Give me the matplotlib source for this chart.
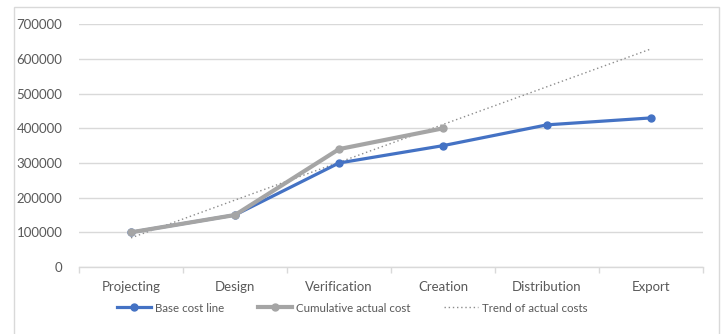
import matplotlib
matplotlib.use("Agg")
import matplotlib.pyplot as plt
from matplotlib.patches import Rectangle
import numpy as np

categories = ["Projecting", "Design", "Verification", "Creation", "Distribution", "Export"]
base_cost = [100000, 150000, 300000, 350000, 410000, 430000]
actual_cost = [100000, 150000, 340000, 400000]
y_ticks = [0, 100000, 200000, 300000, 400000, 500000, 600000, 700000]

BLUE = "#4472C4"
GRAY = "#A5A5A5"
TEXT = "#595959"
GRID = "#D9D9D9"

plt.rcParams["font.family"] = ["Lato", "DejaVu Sans"]

fig = plt.figure(figsize=(7.21, 3.34), dpi=100)
W, H = 721, 334
ax = fig.add_axes([79 / W, 1 - 267 / H, 624 / W, (267 - 24.3) / H])

# outer chart frame
fig.patches.append(Rectangle((14 / W, -0.1), (719 - 14) / W, 1.1 - 7 / H,
                             transform=fig.transFigure, fill=False,
                             edgecolor="#D9D9D9", linewidth=1.0))

x_all = np.arange(len(categories))
x_act = np.arange(len(actual_cost))

# linear trend of the actual costs, extended over all stages
slope, intercept = np.polyfit(x_act, actual_cost, 1)
trend = slope * x_all + intercept

ax.plot(x_all, base_cost, color=BLUE, linewidth=2.3, marker="o", markersize=5,
        label="Base cost line", zorder=3)
ax.plot(x_act, actual_cost, color=GRAY, linewidth=3.0, marker="o", markersize=5,
        label="Cumulative actual cost", zorder=4)
ax.plot(x_all, trend, color="#8C8C8C", linewidth=1.0, linestyle=(0, (1, 2)),
        label="Trend of actual costs", zorder=2)

ax.set_xlim(-0.5, len(categories) - 0.5)
ax.set_ylim(0, 700000)
ax.set_yticks(y_ticks)
ax.set_yticklabels([str(v) for v in y_ticks])
ax.set_xticks(x_all)
ax.set_xticklabels(categories)
ax.set_xticks(np.arange(-0.5, len(categories), 1.0), minor=True)

ax.grid(axis="y", color=GRID, linewidth=1.0)
ax.set_axisbelow(True)
for s in ["top", "right", "left"]:
    ax.spines[s].set_visible(False)
ax.spines["bottom"].set_color(GRID)
ax.spines["bottom"].set_linewidth(1.0)

ax.tick_params(axis="y", length=0, pad=12, labelsize=9.5, labelcolor=TEXT)
ax.tick_params(axis="x", which="major", length=0, pad=10, labelsize=9.5, labelcolor=TEXT)
ax.tick_params(axis="x", which="minor", length=4, width=1.0, color=GRID)

leg = fig.legend(loc="center", bbox_to_anchor=(352 / W, 1 - 308 / H), ncol=3,
                 frameon=False, fontsize=8.3, handlelength=3.0, columnspacing=2.9,
                 handletextpad=0.3)
for t in leg.get_texts():
    t.set_color(TEXT)

fig.savefig("out.png", dpi=100)
